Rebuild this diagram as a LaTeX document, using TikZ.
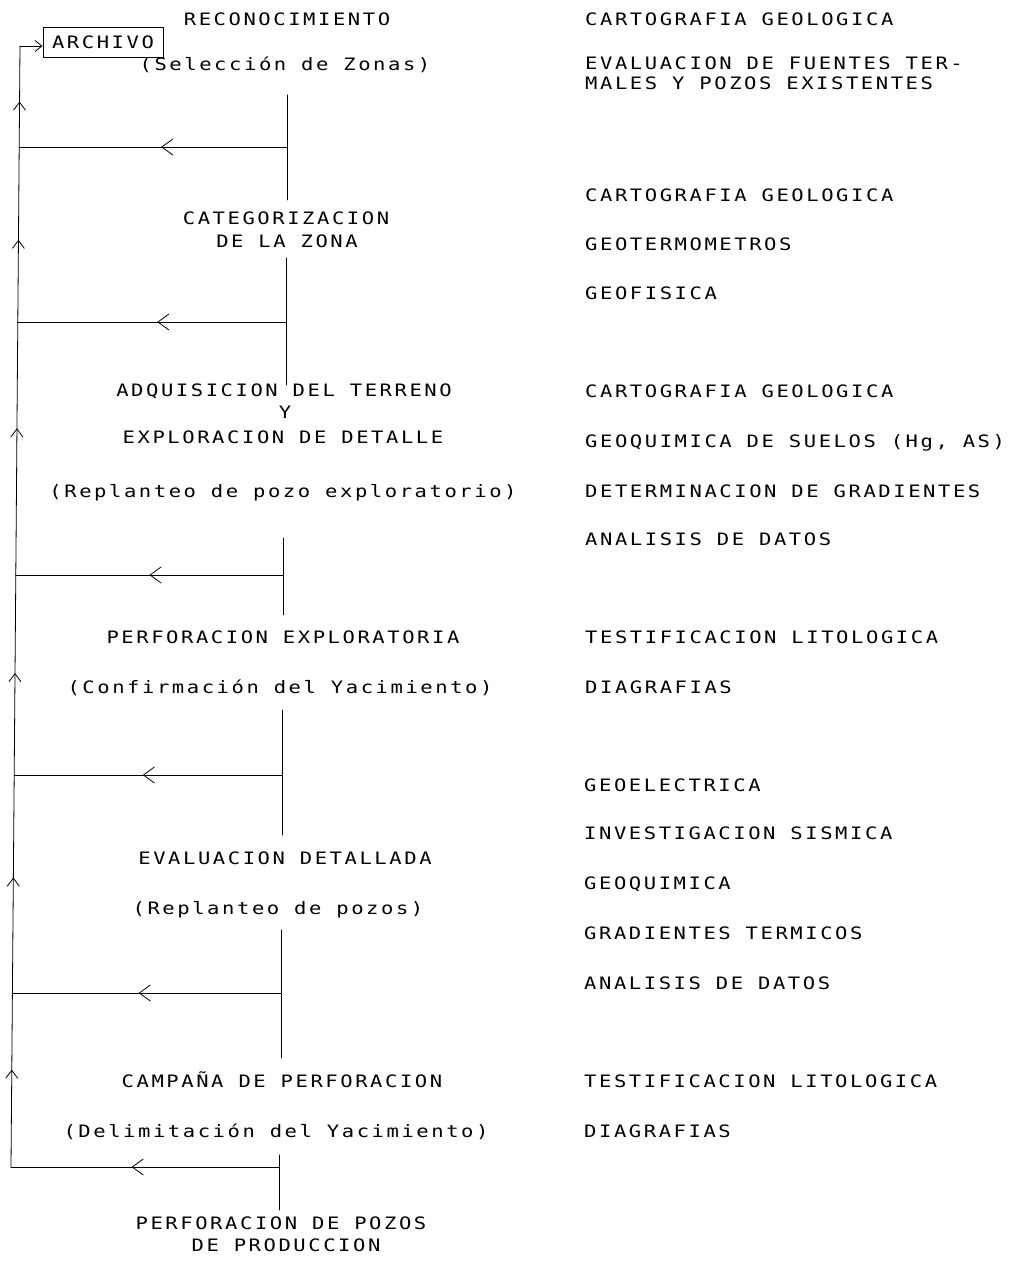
\documentclass[tikz,border=0pt]{standalone}
\usepackage{fontspec}
\setmonofont{DejaVu Sans Mono}[FakeStretch=1.2, LetterSpace=15]
\usetikzlibrary{arrows.meta,decorations.markings}

\tikzset{
  lbl/.style={inner sep=0pt, anchor=base, font=\ttfamily\fontsize{17.1}{20}\selectfont},
  rlbl/.style={lbl, anchor=base west},
  ln/.style={line width=0.8pt, line cap=round},
  backarr/.style={ln, postaction={decorate}, decoration={markings,
      mark=at position #1 with {\arrow{Straight Barb[length=11pt,width=16pt,line width=0.8pt]}}}},
  uparr/.style={ln, postaction={decorate}, decoration={markings,
      mark=at position #1 with {\arrow{Straight Barb[length=8pt,width=12pt,line width=0.8pt]}}}},
  boxed/.style={draw, line width=0.8pt, inner sep=0pt, minimum width=120pt, minimum height=30pt,
      font=\ttfamily\fontsize{17.1}{20}\selectfont}
}

\begin{document}
\begin{tikzpicture}[x=1pt,y=-1pt]
\path[use as bounding box] (0,0) rectangle (1018,1264);

% ---- stages (left column) ----
\node[lbl] (reco)  at (287,25.2)  {RECONOCIMIENTO};
\node[boxed] (archivo) at (103,42.5) {ARCHIVO};
\node[lbl] (selec) at (285,70.2)  {(Selección de Zonas)};
\node[lbl] (categ) at (286,224.2) {CATEGORIZACION};
\node[lbl] (zona)  at (287,247.2) {DE LA ZONA};
\node[lbl] (adq)   at (284,396.2) {ADQUISICION DEL TERRENO};
\node[lbl] (yy)    at (285,418.2) {Y};
\node[lbl] (expl)  at (283,443.2) {EXPLORACION DE DETALLE};
\node[lbl] (repl1) at (283,497.2) {(Replanteo de pozo exploratorio)};
\node[lbl] (perf)  at (283,643.2) {PERFORACION EXPLORATORIA};
\node[lbl] (conf)  at (280,693.2) {(Confirmación del Yacimiento)};
\node[lbl] (evald) at (285,864.2) {EVALUACION DETALLADA};
\node[lbl] (repl2) at (278,914.2) {(Replanteo de pozos)};
\node[lbl] (camp)  at (282,1087.2) {CAMPAÑA DE PERFORACION};
\node[lbl] (delim) at (276,1137.2) {(Delimitación del Yacimiento)};
\node[lbl] (prodA) at (281,1229.2) {PERFORACION DE POZOS};
\node[lbl] (prodB) at (286,1251.2) {DE PRODUCCION};

% ---- tasks (right column) ----
\node[rlbl] (t1a) at (585,25.2)  {CARTOGRAFIA GEOLOGICA};
\node[rlbl] (t1b) at (585,69.2)  {EVALUACION DE FUENTES TER-};
\node[rlbl] (t1c) at (585,89.2)  {MALES Y POZOS EXISTENTES};
\node[rlbl] (t2a) at (585,201.2) {CARTOGRAFIA GEOLOGICA};
\node[rlbl] (t2b) at (585,250.2) {GEOTERMOMETROS};
\node[rlbl] (t2c) at (585,299.2) {GEOFISICA};
\node[rlbl] (t3a) at (585,397.2) {CARTOGRAFIA GEOLOGICA};
\node[rlbl] (t3b) at (585,447.2) {GEOQUIMICA DE SUELOS (Hg, AS)};
\node[rlbl] (t3c) at (585,497.2) {DETERMINACION DE GRADIENTES};
\node[rlbl] (t3d) at (585,545.2) {ANALISIS DE DATOS};
\node[rlbl] (t4a) at (585,643.2) {TESTIFICACION LITOLOGICA};
\node[rlbl] (t4b) at (585,693.2) {DIAGRAFIAS};
\node[rlbl] (t5a) at (584,791.2) {GEOELECTRICA};
\node[rlbl] (t5b) at (584,839.2) {INVESTIGACION SISMICA};
\node[rlbl] (t5c) at (584,889.2) {GEOQUIMICA};
\node[rlbl] (t5d) at (584,939.2) {GRADIENTES TERMICOS};
\node[rlbl] (t5e) at (584,989.2) {ANALISIS DE DATOS};
\node[rlbl] (t6a) at (584,1087.2) {TESTIFICACION LITOLOGICA};
\node[rlbl] (t6b) at (584,1137.2) {DIAGRAFIAS};

% ---- main sequence: vertical links between stages ----
\coordinate (s1t) at (287,95);   \coordinate (s1b) at (287,200);
\coordinate (s2t) at (286,258);  \coordinate (s2b) at (286,385);
\coordinate (s3t) at (283,538);  \coordinate (s3b) at (283,615);
\coordinate (s4t) at (282,710);  \coordinate (s4b) at (282,835);
\coordinate (s5t) at (281,930);  \coordinate (s5b) at (281,1058);
\coordinate (s6t) at (279,1155); \coordinate (s6b) at (279,1210);
\foreach \i in {1,...,6} { \draw[ln] (s\i t) -- (s\i b); }

% ---- branch points on the stage line and on the return line ----
\coordinate (h1c) at (287,147);  \coordinate (h1l) at (19.2,147);
\coordinate (h2c) at (286,322);  \coordinate (h2l) at (17.8,322);
\coordinate (h3c) at (283,575);  \coordinate (h3l) at (15.8,575);
\coordinate (h4c) at (282,775);  \coordinate (h4l) at (14.2,775);
\coordinate (h5c) at (281,993);  \coordinate (h5l) at (12.4,993);
\coordinate (h6c) at (279,1167); \coordinate (h6l) at (11,1167);
\coordinate (top) at (20,46);

% rejection branches (to the left)
\draw[backarr=0.47] (h1c) -- (h1l);
\draw[backarr=0.48] (h2c) -- (h2l);
\draw[backarr=0.50] (h3c) -- (h3l);
\draw[backarr=0.52] (h4c) -- (h4l);
\draw[backarr=0.53] (h5c) -- (h5l);
\draw[backarr=0.55] (h6c) -- (h6l);

% return line up to the archive
\draw[uparr=0.56] (h6l) -- (h5l);
\draw[uparr=0.53] (h5l) -- (h4l);
\draw[uparr=0.51] (h4l) -- (h3l);
\draw[uparr=0.58] (h3l) -- (h2l);
\draw[uparr=0.47] (h2l) -- (h1l);
\draw[uparr=0.45] (h1l) -- (top);
\draw[ln, -{Straight Barb[length=7pt,width=11pt,line width=0.8pt]}] (top) -- (top -| archivo.west);
\end{tikzpicture}
\end{document}
